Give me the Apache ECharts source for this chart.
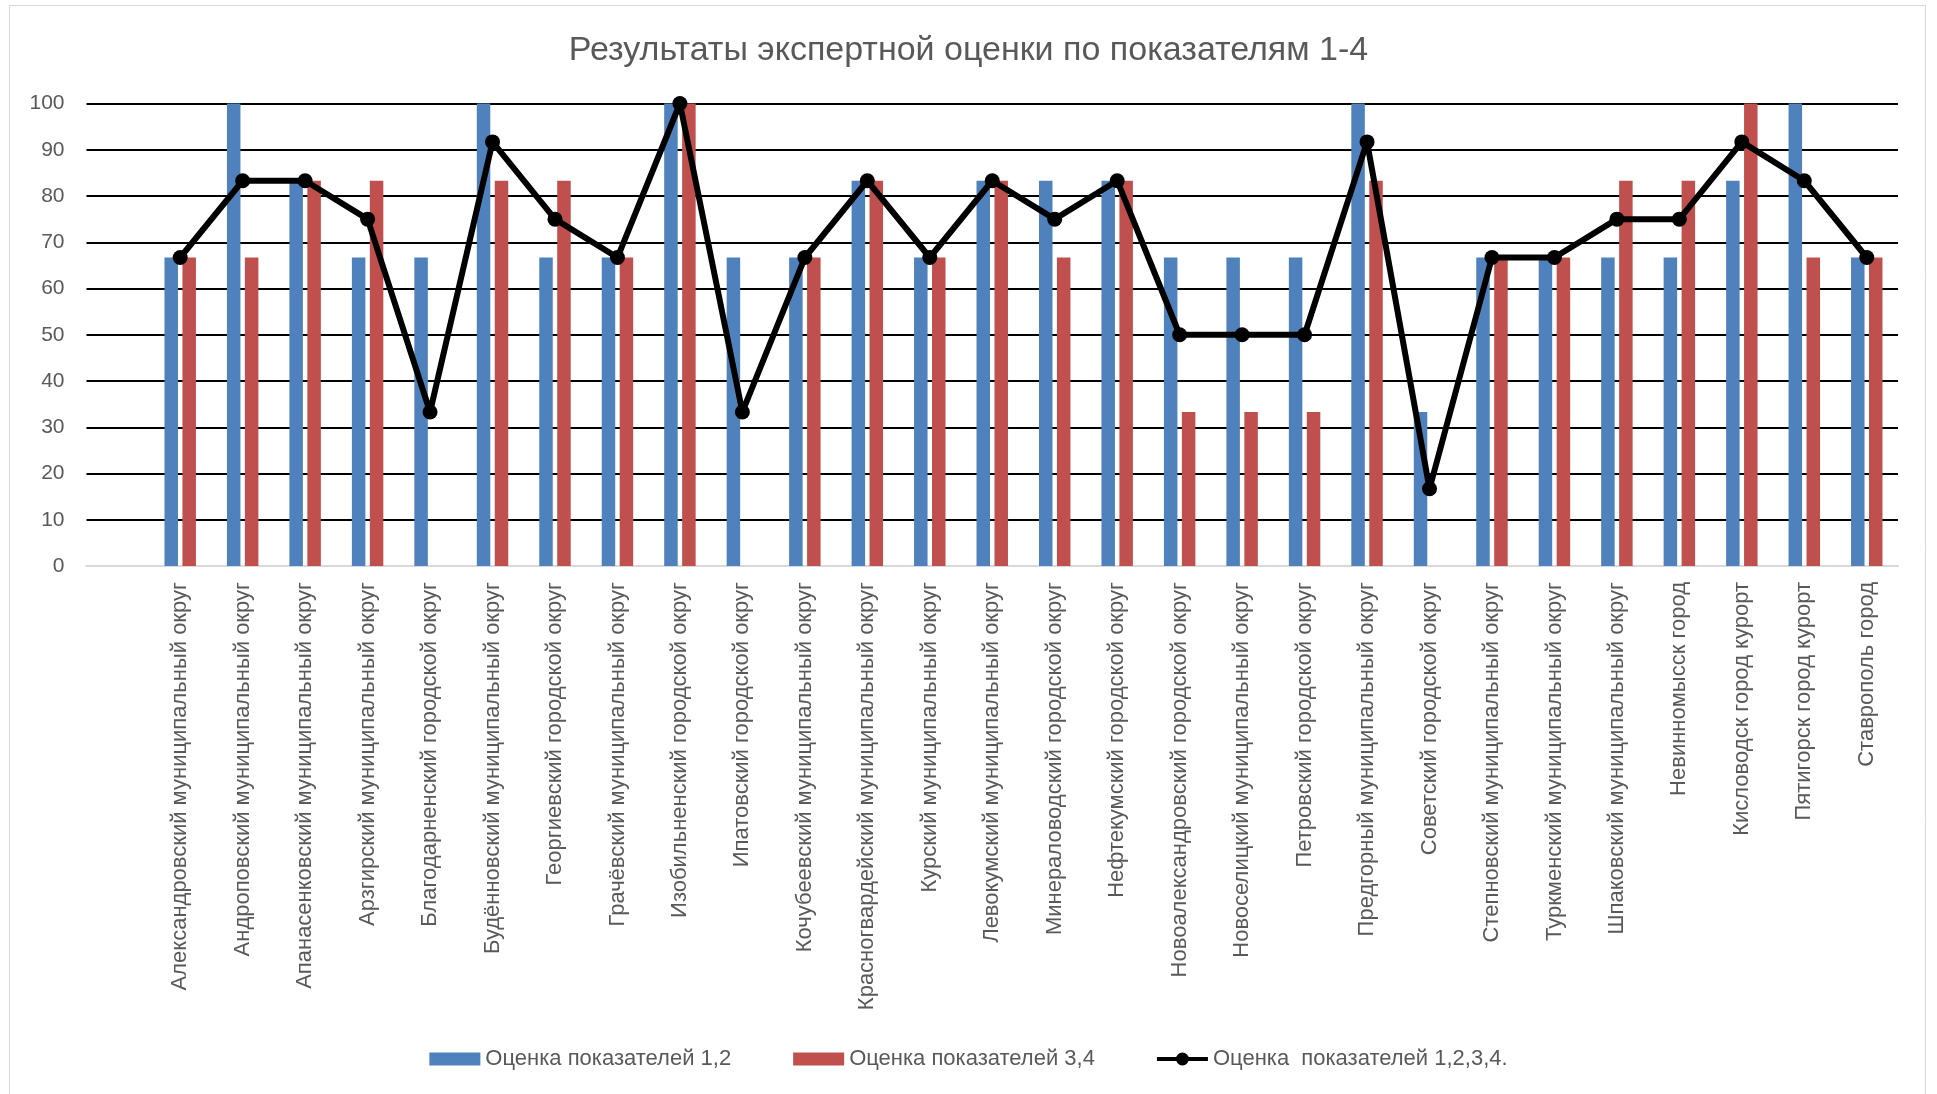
<!DOCTYPE html>
<html>
<head>
<meta charset="utf-8">
<script src="https://cdn.jsdelivr.net/npm/echarts@6/dist/echarts.min.js"></script>
<style>
html,body{margin:0;padding:0;background:#fff;}
#chart{width:1937px;height:1094px;}
</style>
</head>
<body>
<div id="chart"></div>
<script>
// Categories (the source chart has an empty leading category slot)
const categories = [
  '',
  'Александровский муниципальный округ',
  'Андроповский муниципальный округ',
  'Апанасенковский муниципальный округ',
  'Арзгирский муниципальный округ',
  'Благодарненский городской округ',
  'Будённовский муниципальный округ',
  'Георгиевский городской округ',
  'Грачёвский муниципальный округ',
  'Изобильненский городской округ',
  'Ипатовский городской округ',
  'Кочубеевский муниципальный округ',
  'Красногвардейский муниципальный округ',
  'Курский муниципальный округ',
  'Левокумский муниципальный округ',
  'Минераловодский городской округ',
  'Нефтекумский городской округ',
  'Новоалександровский городской округ',
  'Новоселицкий муниципальный округ',
  'Петровский городской округ',
  'Предгорный муниципальный округ',
  'Советский городской округ',
  'Степновский муниципальный округ',
  'Туркменский муниципальный округ',
  'Шпаковский муниципальный округ',
  'Невинномысск город',
  'Кисловодск город курорт',
  'Пятигорск город курорт',
  'Ставрополь город'
];
const score12 = [null, 66.7, 100, 83.3, 66.7, 66.7, 100, 66.7, 66.7, 100, 66.7, 66.7, 83.3, 66.7, 83.3, 83.3, 83.3, 66.7, 66.7, 66.7, 100, 33.3, 66.7, 66.7, 66.7, 66.7, 83.3, 100, 66.7];
const score34 = [null, 66.7, 66.7, 83.3, 83.3, 0, 83.3, 83.3, 66.7, 100, 0, 66.7, 83.3, 66.7, 83.3, 66.7, 83.3, 33.3, 33.3, 33.3, 83.3, 0, 66.7, 66.7, 83.3, 83.3, 100, 66.7, 66.7];
const score1234 = [null, 66.7, 83.3, 83.3, 75, 33.3, 91.7, 75, 66.7, 100, 33.3, 66.7, 83.3, 66.7, 83.3, 75, 83.3, 50, 50, 50, 91.7, 16.7, 66.7, 66.7, 75, 75, 91.7, 83.3, 66.7];
const yTicks = [0, 10, 20, 30, 40, 50, 60, 70, 80, 90, 100];
const seriesNames = ['Оценка показателей 1,2', 'Оценка показателей 3,4', 'Оценка  показателей 1,2,3,4.'];
const titleText = 'Результаты экспертной оценки по показателям 1-4';

const chart = echarts.init(document.getElementById('chart'), null, {renderer: 'canvas'});
const FONT = '"Liberation Sans", Arial, sans-serif';
const TXT = '#595959';
const lineIcon = 'path://M0,4.5H51V8.5H0Z M19,6.5A6.5,6.5 0 1 1 32,6.5A6.5,6.5 0 1 1 19,6.5Z';

chart.setOption({
  animation: false,
  backgroundColor: '#ffffff',
  graphic: [{
    type: 'rect',
    shape: {x: 9.5, y: 5.5, width: 1916, height: 1100},
    style: {fill: 'none', stroke: '#d9d9d9', lineWidth: 1},
    silent: true
  }],
  title: {
    text: titleText,
    left: 'center',
    top: 29,
    textStyle: {fontFamily: FONT, fontSize: 34, fontWeight: 'normal', color: TXT}
  },
  legend: {
    bottom: 19,
    left: 'center',
    itemWidth: 51,
    itemHeight: 13,
    itemGap: 62,
    textStyle: {fontFamily: FONT, fontSize: 22, color: TXT},
    data: [
      {name: seriesNames[0], icon: 'rect'},
      {name: seriesNames[1], icon: 'rect'},
      {name: seriesNames[2], icon: lineIcon}
    ]
  },
  grid: {left: 86.5, right: 39, top: 103.5, bottom: 528, containLabel: false},
  xAxis: {
    type: 'category',
    data: categories,
    boundaryGap: true,
    axisLine: {show: true, lineStyle: {color: '#d9d9d9', width: 2}},
    axisTick: {show: false},
    axisLabel: {
      interval: 0,
      rotate: 90,
      margin: 16,
      fontFamily: FONT,
      fontSize: 22,
      color: TXT
    }
  },
  yAxis: {
    type: 'value',
    min: 0,
    max: 100,
    interval: 10,
    axisLine: {show: false},
    axisTick: {show: false},
    axisLabel: {
      margin: 22,
      fontFamily: FONT,
      fontSize: 21,
      color: TXT,
      formatter: function (v) { return yTicks.indexOf(v) >= 0 ? String(v) : ''; }
    },
    splitLine: {show: true, lineStyle: {color: '#000000', width: 2}}
  },
  series: [
    {
      name: seriesNames[0],
      type: 'bar',
      data: score12,
      barWidth: 13.5,
      barGap: '33%',
      itemStyle: {color: '#4F81BD'},
      z: 2
    },
    {
      name: seriesNames[1],
      type: 'bar',
      data: score34,
      barWidth: 13.5,
      barGap: '33%',
      itemStyle: {color: '#C0504D'},
      z: 2
    },
    {
      name: seriesNames[2],
      type: 'line',
      data: score1234,
      symbol: 'circle',
      symbolSize: 15,
      showSymbol: true,
      connectNulls: false,
      lineStyle: {color: '#000000', width: 6},
      itemStyle: {color: '#000000'},
      z: 5
    }
  ]
});
</script>
</body>
</html>
